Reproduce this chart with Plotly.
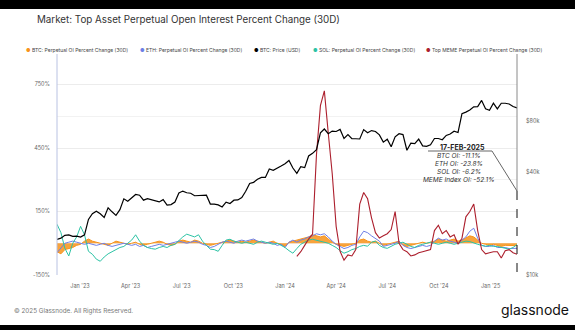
import math
import pandas as pd
import plotly.graph_objects as go

# ---------------- data (weekly) ----------------
dates = pd.date_range("2022-11-21", "2025-02-17", freq="7D")

btc_oi = [-40, -50, -30, -25, -20, -10, -5, 10, 20, 10, 5, 0, -5, -10, 0, 10, 5, 0, -5, 0,
          5, -5, -10, -5, 0, 5, 10, 5, -5, -10, -5, 10, 15, 10, 5, 15, 10, 0, -5, -10,
          -5, 0, 5, 10, 15, 10, 5, 10, 5, 10, 15, 10, 5, 0, 5, 10, 0, -5, -15, 5,
          10, 15, 20, 25, 30, 40, 35, 30, 35, 20, 5, -5, -10, -15, -10, -5, 0, 15, 20, 10,
          5, 10, 0, -10, -5, 0, 5, 10, -10, -15, -10, -5, 0, 5, 0, 5, 10, 20, 15, 10,
          15, 20, 10, 15, 25, 35, 30, 15, 0, -5, -10, -5, -10, -15, -10, -10, -10, -11.1]

eth_oi = [-45, -20, 0, 5, 10, 5, 0, -5, 0, -5, -10, -5, 0, -10, -15, -10, -5, 0, -5, -10,
          -5, -15, -10, -20, -15, -10, -5, -10, -5, 0, 5, 10, 5, 0, 5, 10, 5, -5, -10, -20,
          -15, -5, 5, 10, 5, 0, 10, 15, 10, 15, 20, 10, 5, 0, 5, 0, -10, -5, -20, 5,
          15, 5, 15, 20, 30, 35, 45, 40, 45, 30, 10, -5, -15, -25, -20, -10, -5, 30, 57, 50,
          35, 24, 10, -15, -10, -5, 0, 10, -10, -20, -25, -20, -15, -10, -15, -10, 10, 24, 15, 20,
          10, 5, 0, 15, 30, 57, 71, 24, -10, -15, -15, -10, -20, -20, -20, -25, -25, -23.8]

sol_oi = [90, 50, -24, -60, 0, 30, 80, 40, -38, -52, -75, -85, -65, -50, -40, -30, -20, -15, 0, 15,
          40, 10, -10, -20, -25, -28, -20, -15, -20, -10, -5, 15, 30, 43, 35, 30, 40, 10, -10, -28,
          -30, -38, -10, 15, 19, 10, 5, 0, 5, 0, -5, 5, 10, 5, 0, -5, 0, -10, -20, -35,
          -47, -25, -5, 5, 15, 19, 15, 10, 5, 0, -10, -20, -35, -47, -40, -30, -25, -15, -10, -14,
          5, 10, -10, -20, -24, -15, -5, 0, 5, -5, -15, -20, -10, -5, 0, 5, 0, -5, 0, 5,
          0, -5, 0, 5, 10, 8, 0, -5, -10, -14, -10, -15, -15, -20, -25, -28, -20, -6.2]

meme_oi = [None] * 61 + [
    -62, -40, -10, 20, 43, 420, 650, 720, 520, 330, 80, -38, -80, -55, -60, -30, 185, 240, 210,
    120, 50, 25, 35, 45, 65, 150, 0, -30, -40, -60, -55, -45, -40, -35, -30, 60, 85, 45,
    60, 30, 40, -5, 24, 125, 150, 185, 60, -30, -50, -45, -40, -40, -70, -35, -30, -45, -52.1]

btc_price = [16200, 16450, 17100, 17200, 16850, 16900,
             16700, 17200, 21200, 22900, 23700, 22900, 21800, 24800, 23500, 22400, 24200, 28000, 27100,
             28200, 29700, 29400, 27500, 28100, 27700, 27100, 26850, 27700, 25700, 25900, 26800, 30300,
             31100, 30400, 30200, 29200, 29300, 29200, 29400, 26100, 26100, 25800, 25100, 26800, 26300,
             27500, 27600, 28500, 31000, 34500, 35000, 36500, 37400, 37400, 41900, 41200, 42600, 43600,
             45000, 47000, 42500, 39500, 43300, 42700, 50000, 51800, 54500, 68300, 72000, 67600, 70000,
             69600, 71600, 63400, 66800, 63100, 63100, 62900, 71400, 68500, 70500, 69600, 66500, 60300,
             62700, 56700, 64800, 67600, 66800, 54000, 59400, 59000, 62800, 57300, 57000, 58200, 63300,
             63300, 62300, 66000, 67300, 69900, 68700, 88700, 90500, 93000, 97200, 97400, 106000, 94700,
             92800, 102000, 94500, 102000, 102000, 101000, 97500, 95700]

names = ["BTC: Perpetual OI Percent Change (30D)", "ETH: Perpetual OI Percent Change (30D)",
         "BTC: Price (USD)", "SOL: Perpetual OI Percent Change (30D)",
         "Top MEME Perpetual OI Percent Change (30D)"]
colors = ["#f7931a", "#6e7fe6", "#000000", "#2cc3a5", "#ac1f2d"]

left_ticks = [-150, 150, 450, 750]
left_labels = ["-150%", "150%", "450%", "750%"]
right_ticks = [10000, 40000, 80000]
right_labels = ["$10k", "$40k", "$80k"]
x_ticks = ["2023-01-01", "2023-04-01", "2023-07-01", "2023-10-01", "2024-01-01",
           "2024-04-01", "2024-07-01", "2024-10-01", "2025-01-01"]
x_labels = ["Jan '23", "Apr '23", "Jul '23", "Oct '23", "Jan '24",
            "Apr '24", "Jul '24", "Oct '24", "Jan '25"]

# ---------------- layout geometry ----------------
W, H = 575, 330
L, R, T, B = 57, 58, 60, 55
PW, PH = W - L - R, H - T - B


def px(x):
    return (x - L) / PW


def py(y):
    return (H - B - y) / PH


FONT = "Inter, Roboto, sans-serif"

fig = go.Figure()
fig.add_trace(go.Scatter(x=dates, y=btc_oi, name=names[0], mode="lines",
                         line=dict(color=colors[0], width=1), fill="tozeroy",
                         fillcolor="rgba(247,147,26,0.85)"))
fig.add_trace(go.Scatter(x=dates, y=eth_oi, name=names[1], mode="lines",
                         line=dict(color=colors[1], width=1)))
fig.add_trace(go.Scatter(x=dates, y=sol_oi, name=names[3], mode="lines",
                         line=dict(color=colors[3], width=1)))
fig.add_trace(go.Scatter(x=dates, y=meme_oi, name=names[4], mode="lines",
                         line=dict(color=colors[4], width=1.1)))
fig.add_trace(go.Scatter(x=dates, y=btc_price, name=names[2], mode="lines", yaxis="y2",
                         line=dict(color=colors[2], width=1.2)))

fig.update_layout(
    width=W, height=H, margin=dict(l=L, r=R, t=T, b=B),
    paper_bgcolor="white", plot_bgcolor="white", showlegend=False,
    font=dict(family=FONT, color="#555"),
    xaxis=dict(range=[dates[0], dates[-1]], tickvals=x_ticks, ticktext=x_labels,
               showgrid=False, zeroline=False, showline=False, ticks="",
               tickfont=dict(size=5.5, color="#666"), ticklabelstandoff=6),
    yaxis=dict(range=[-150, 866], tickvals=left_ticks, ticktext=left_labels,
               showgrid=True, gridcolor="#ececec", gridwidth=0.6, zeroline=False,
               showline=False, ticks="", tickfont=dict(size=5.5, color="#666"),
               ticklabelstandoff=6,
               minor=dict(dtick=150, showgrid=True, gridcolor="#f2f2f2", gridwidth=0.6)),
    yaxis2=dict(overlaying="y", side="right", type="log",
                range=[4, math.log10(183000)], tickvals=right_ticks, ticktext=right_labels,
                showgrid=False, zeroline=False, showline=False, ticks="",
                tickfont=dict(size=5.5, color="#666"), ticklabelstandoff=8),
)

shapes = []
# black bands top and bottom
shapes.append(dict(type="rect", xref="paper", yref="paper", x0=px(-5), x1=px(W + 5),
                   y0=py(9), y1=py(-5), fillcolor="black", line=dict(width=0), layer="above"))
shapes.append(dict(type="rect", xref="paper", yref="paper", x0=px(-5), x1=px(W + 5),
                   y0=py(H + 5), y1=py(325), fillcolor="black", line=dict(width=0), layer="above"))
# left axis line
shapes.append(dict(type="line", xref="paper", yref="paper", x0=px(57), x1=px(57),
                   y0=py(54), y1=py(275), line=dict(color="#b9c2e2", width=1)))
# right vertical marker line
shapes.append(dict(type="line", xref="paper", yref="paper", x0=px(517), x1=px(517),
                   y0=py(54), y1=py(191), line=dict(color="#8a8a8a", width=1)))
shapes.append(dict(type="line", xref="paper", yref="paper", x0=px(517), x1=px(517),
                   y0=py(191), y1=py(275), line=dict(color="#111", width=1, dash="dash")))
# annotation connector
shapes.append(dict(type="line", xref="paper", yref="paper", x0=px(428), x1=px(492),
                   y0=py(151), y1=py(151), line=dict(color="#666", width=1)))
shapes.append(dict(type="line", xref="paper", yref="paper", x0=px(492), x1=px(517),
                   y0=py(151), y1=py(191), line=dict(color="#666", width=1)))
fig.update_layout(shapes=shapes)

ann = []
ann.append(dict(text="Market: Top Asset Perpetual Open Interest Percent Change (30D)",
                xref="paper", yref="paper", x=px(35), y=py(19), xanchor="left", yanchor="middle",
                showarrow=False, font=dict(family=FONT, size=9.8, color="#333")))
# legend as annotations
legend_x = [24, 138, 252, 311, 424]
legend_order = [0, 1, 2, 3, 4]
for lx, k in zip(legend_x, legend_order):
    ann.append(dict(text=f"<span style='color:{colors[k]}'>●</span> {names[k]}",
                    xref="paper", yref="paper", x=px(lx), y=py(50), xanchor="left",
                    yanchor="middle", showarrow=False,
                    font=dict(family=FONT, size=5, color="#444")))
# callout
ann.append(dict(text="<b>17-FEB-2025</b>", xref="paper", yref="paper", x=px(462), y=py(147),
                xanchor="center", yanchor="middle", showarrow=False,
                font=dict(family=FONT, size=7, color="#222")))
lines = [f"BTC OI: {btc_oi[-1]}%", f"ETH OI: {eth_oi[-1]}%", f"SOL OI: {sol_oi[-1]}%",
         f"MEME Index OI: {meme_oi[-1]}%"]
for j, t in enumerate(lines):
    ann.append(dict(text=f"<i>{t}</i>", xref="paper", yref="paper", x=px(459), y=py(156 + 8 * j),
                    xanchor="center", yanchor="middle", showarrow=False,
                    font=dict(family=FONT, size=6.5, color="#333")))
# footer
ann.append(dict(text="© 2025 Glassnode. All Rights Reserved.", xref="paper", yref="paper",
                x=px(12), y=py(311), xanchor="left", yanchor="middle", showarrow=False,
                font=dict(family=FONT, size=6.3, color="#777")))
ann.append(dict(text="glassnode", xref="paper", yref="paper", x=px(571), y=py(309),
                xanchor="right", yanchor="middle", showarrow=False,
                font=dict(family=FONT, size=14, color="#111")))
fig.update_layout(annotations=ann)

fig.write_html("out.html")
